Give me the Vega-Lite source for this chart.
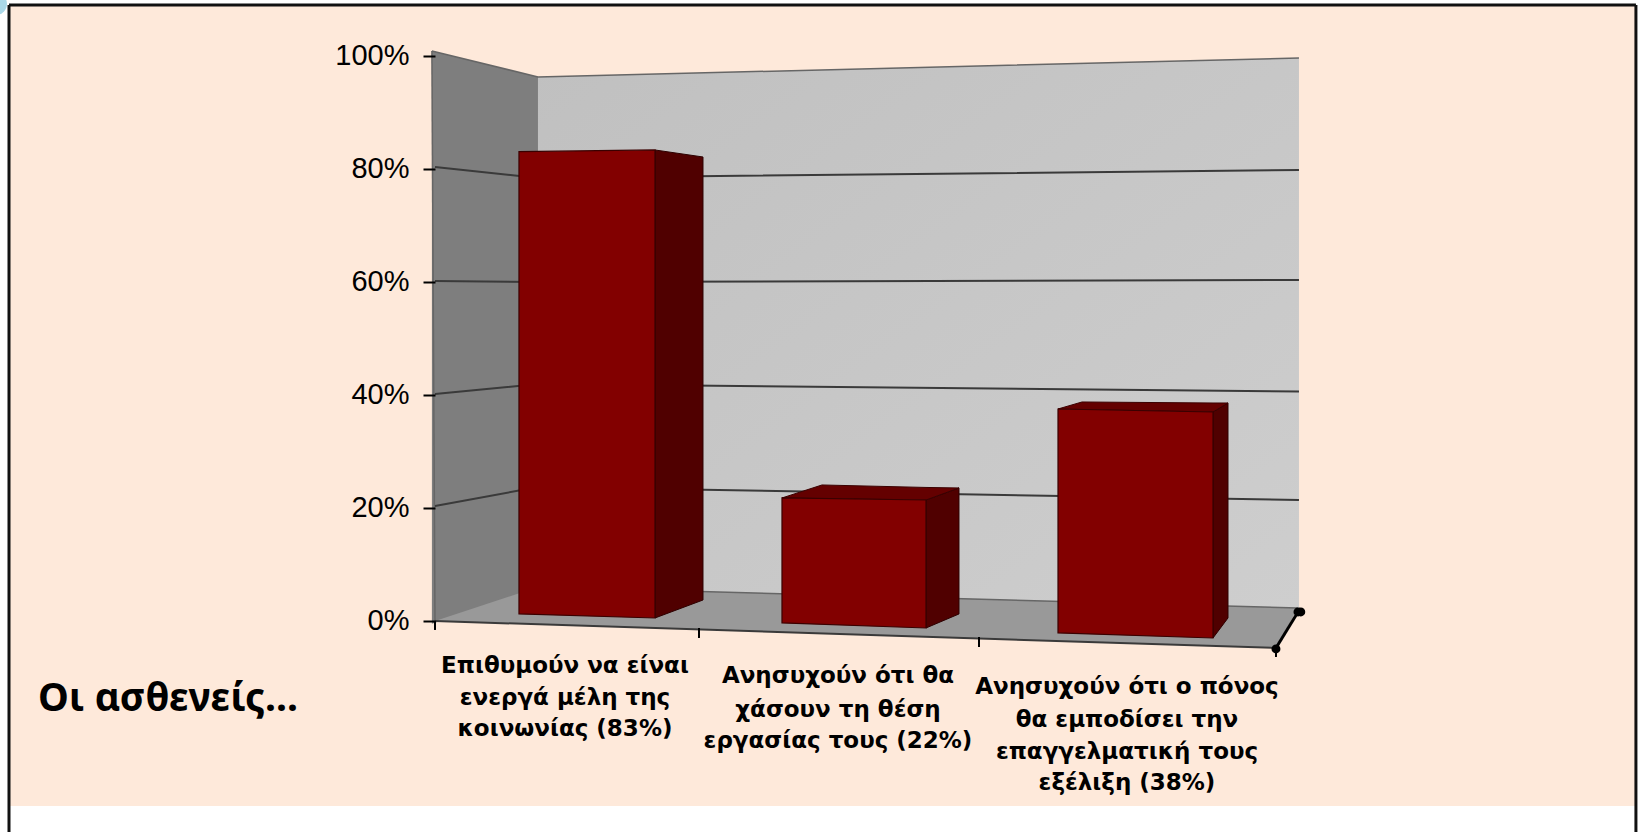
{
"$schema":"https://vega.github.io/schema/vega-lite/v6.json",
"width":1641,"height":832,"padding":0,"autosize":{"type":"none"},"background":"white",
"config":{"view":{"stroke":null}},
"datasets":{
"frame":[{"part":"panel","x":-1.5196,"x2":4.284,"y":108.97,"y2":-32.73}],
"borders":[
{"side":"left","x":-1.5196,"y":108.97,"y2":-37.33},
{"side":"right","x":4.284,"y":108.97,"y2":-37.33}],
"corner":[{"x":-1.566,"y":109.15}],
"shapes":[
{"part":"sidewall","bar":"w","x":-0.011,"y":100.83,"y2":-0.5},
{"part":"sidewall","bar":"w","x":0.3674,"y":96.23,"y2":5.6},
{"part":"backwall","bar":"w","x":0.3674,"y":96.23,"y2":5.6},
{"part":"backwall","bar":"w","x":3.082,"y":99.59,"y2":2.0},
{"part":"floor","bar":"w","x":0,"y":0,"y2":0},
{"part":"floor","bar":"w","x":0.3674,"y":6.01,"y2":-0.58},
{"part":"floor","bar":"w","x":3.0,"y":2.41,"y2":-4.78},
{"part":"floor","bar":"w","x":3.0785,"y":2.3,"y2":2.3},
{"part":"front","bar":"a","x":0.2996,"y":83.02,"y2":1.24},
{"part":"front","bar":"a","x":0.7848,"y":83.32,"y2":0.53},
{"part":"side","bar":"a","x":0.7848,"y":83.32,"y2":0.53},
{"part":"side","bar":"a","x":0.956,"y":82.08,"y2":3.71},
{"part":"front","bar":"b","x":1.2378,"y":21.76,"y2":-0.35},
{"part":"front","bar":"b","x":1.7515,"y":21.4,"y2":-1.24},
{"part":"side","bar":"b","x":1.7515,"y":21.4,"y2":-1.24},
{"part":"side","bar":"b","x":1.8692,"y":23.53,"y2":1.24},
{"part":"top","bar":"b","x":1.2378,"y":21.76,"y2":21.76},
{"part":"top","bar":"b","x":1.3805,"y":24.06,"y2":21.65},
{"part":"top","bar":"b","x":1.7515,"y":23.62,"y2":21.4},
{"part":"top","bar":"b","x":1.8692,"y":23.53,"y2":23.53},
{"part":"front","bar":"c","x":2.2224,"y":37.5,"y2":-2.12},
{"part":"front","bar":"c","x":2.7753,"y":36.97,"y2":-3.01},
{"part":"side","bar":"c","x":2.7753,"y":36.97,"y2":-3.01},
{"part":"side","bar":"c","x":2.8288,"y":38.56,"y2":0.53},
{"part":"top","bar":"c","x":2.2224,"y":37.5,"y2":37.5},
{"part":"top","bar":"c","x":2.308,"y":38.74,"y2":37.41},
{"part":"top","bar":"c","x":2.7753,"y":38.56,"y2":36.97},
{"part":"top","bar":"c","x":2.8288,"y":38.56,"y2":38.56}
],
"grid":[
{"level":"80","x":0,"y":80.31},{"level":"80","x":0.3674,"y":78.37},{"level":"80","x":3.082,"y":79.78},
{"level":"60","x":0,"y":60.15},{"level":"60","x":0.3674,"y":59.97},{"level":"60","x":3.082,"y":60.32},
{"level":"40","x":0,"y":40.16},{"level":"40","x":0.3674,"y":41.92},{"level":"40","x":3.082,"y":40.6},
{"level":"20","x":0,"y":20.34},{"level":"20","x":0.3674,"y":23.7},{"level":"20","x":3.082,"y":21.4},
{"level":"front","x":0,"y":0},{"level":"front","x":3.0,"y":-4.78}
],
"edges":[
{"level":"100","x":-0.011,"y":100.83},{"level":"100","x":0.3674,"y":96.23},{"level":"100","x":3.082,"y":99.59},
{"level":"0","x":0.3674,"y":6.01},{"level":"0","x":3.0785,"y":2.3},
{"level":"leftedge","x":-0.011,"y":100.83},{"level":"leftedge","x":0,"y":0}
],
"depth":[{"x":3.0,"y":-4.78},{"x":3.0785,"y":1.6}],
"ticks":[
{"x":0,"y":0,"y2":-1.59},
{"x":0.9417,"y":-1.24,"y2":-3.01},
{"x":1.9406,"y":-2.83,"y2":-4.6},
{"x":3.0,"y":-4.78,"y2":-6.37}],
"dots":[{"x":3.0,"y":-4.95,"kind":"a"},{"x":3.0785,"y":1.6,"kind":"b"},{"x":3.0885,"y":1.6,"kind":"b"}],
"labels":[
{"x":0.4637,"y":-7.96,"t":"Επιθυμούν να είναι"},
{"x":0.4637,"y":-13.62,"t":"ενεργά μέλη της"},
{"x":0.4637,"y":-19.19,"t":"κοινωνίας (83%)"},
{"x":1.4376,"y":-9.73,"t":"Ανησυχούν ότι θα"},
{"x":1.4376,"y":-15.74,"t":"χάσουν τη θέση"},
{"x":1.4376,"y":-21.23,"t":"εργασίας τους (22%)"},
{"x":2.4685,"y":-11.68,"t":"Ανησυχούν ότι ο πόνος"},
{"x":2.4685,"y":-17.51,"t":"θα εμποδίσει την"},
{"x":2.4685,"y":-23.09,"t":"επαγγελματική τους"},
{"x":2.4685,"y":-28.66,"t":"εξέλιξη (38%)"}],
"heading":[{"x":-1.4161,"y":-15.92,"t":"Οι ασθενείς..."}]
},
"encoding":{
"x":{"field":"x","type":"quantitative","scale":{"domain":[-1.5517,4.3021],"nice":false,"zero":false},"axis":null},
"y":{"field":"y","type":"quantitative","stack":null,"scale":{"domain":[-37.33,109.85],"nice":false,"zero":false},
"axis":{"title":null,"values":[0,20,40,60,80,100],"labelExpr":"datum.value+'%'","grid":false,"domain":false,"offset":-435,"zindex":1,"tickSize":12,"tickWidth":2,"tickColor":"#000","labelPadding":14,"labelFont":"Liberation Sans","labelFontSize":29,"labelColor":"#000","labelBaseline":"middle"}}
},
"layer":[
{"data":{"name":"corner"},"mark":{"type":"point","shape":"circle","filled":true,"size":484,"color":"#aad8e8","opacity":1}},
{"data":{"name":"frame"},"mark":{"type":"rect","color":"#fee9da"},"encoding":{"x2":{"field":"x2"},"y2":{"field":"y2"}}},
{"data":{"name":"frame"},"mark":{"type":"rule","color":"#111","strokeWidth":3},"encoding":{"x2":{"field":"x2"}}},
{"data":{"name":"borders"},"mark":{"type":"rule","color":"#111","strokeWidth":3},"encoding":{"y2":{"field":"y2"}}},
{"data":{"name":"shapes"},"transform":[{"filter":"datum.part==='sidewall'"}],"mark":{"type":"area","orient":"vertical","color":"#7e7e7e","opacity":1},"encoding":{"y2":{"field":"y2"}}},
{"data":{"name":"shapes"},"transform":[{"filter":"datum.part==='backwall'"}],"mark":{"type":"area","orient":"vertical","opacity":1,"color":{"gradient":"linear","x1":0,"y1":0,"x2":1,"y2":1,"stops":[{"offset":0,"color":"#c0c0c0"},{"offset":1,"color":"#cecece"}]}},"encoding":{"y2":{"field":"y2"}}},
{"data":{"name":"shapes"},"transform":[{"filter":"datum.part==='floor'"}],"mark":{"type":"area","orient":"vertical","color":"#999999","opacity":1},"encoding":{"y2":{"field":"y2"}}},
{"data":{"name":"edges"},"mark":{"type":"line","color":"#666666","strokeWidth":1.5},"encoding":{"detail":{"field":"level"}}},
{"data":{"name":"grid"},"mark":{"type":"line","color":"#3a3a3a","strokeWidth":2},"encoding":{"detail":{"field":"level"}}},
{"data":{"name":"depth"},"mark":{"type":"line","color":"#000","strokeWidth":3}},
{"data":{"name":"ticks"},"mark":{"type":"rule","color":"#000","strokeWidth":2},"encoding":{"y2":{"field":"y2"}}},
{"data":{"name":"dots"},"mark":{"type":"point","shape":"circle","filled":true,"size":80,"color":"#000","opacity":1}},
{"data":{"name":"shapes"},"transform":[{"filter":"datum.part==='side'"}],"mark":{"type":"area","orient":"vertical","color":"#500000","opacity":1,"stroke":"#2c0000","strokeWidth":1},"encoding":{"y2":{"field":"y2"},"detail":{"field":"bar"}}},
{"data":{"name":"shapes"},"transform":[{"filter":"datum.part==='top'"}],"mark":{"type":"area","orient":"vertical","color":"#640000","opacity":1,"stroke":"#3a0000","strokeWidth":1},"encoding":{"y2":{"field":"y2"},"detail":{"field":"bar"}}},
{"data":{"name":"shapes"},"transform":[{"filter":"datum.part==='front'"}],"mark":{"type":"area","orient":"vertical","color":"#820000","opacity":1,"stroke":"#3a0000","strokeWidth":1.2},"encoding":{"y2":{"field":"y2"},"detail":{"field":"bar"}}},
{"data":{"name":"labels"},"mark":{"type":"text","font":"DejaVu Sans","fontWeight":"bold","fontSize":23,"align":"center","baseline":"middle","color":"#000"},"encoding":{"text":{"field":"t"}}},
{"data":{"name":"heading"},"mark":{"type":"text","font":"Noto Sans","fontWeight":"bold","fontSize":39,"align":"left","baseline":"alphabetic","color":"#000"},"encoding":{"text":{"field":"t"}}}
]
}
